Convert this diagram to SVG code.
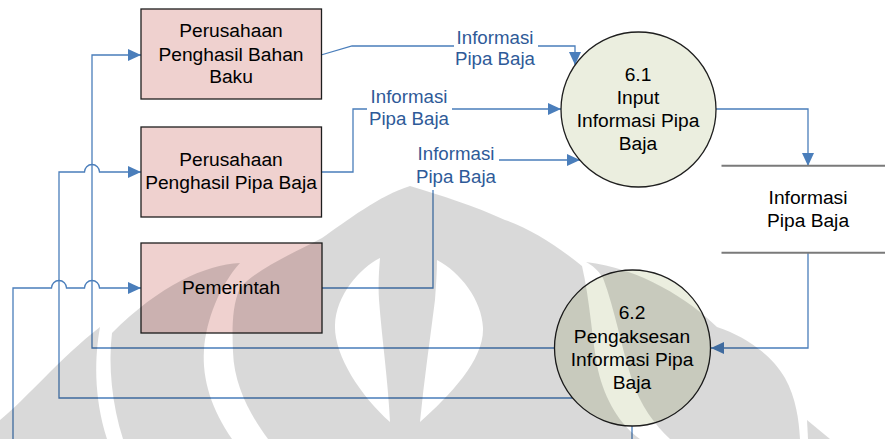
<svg xmlns="http://www.w3.org/2000/svg" width="885" height="439" viewBox="0 0 885 439">
  <style>
    .box { fill: #efd1cf; stroke: #1e1e1e; stroke-width: 1.3; }
    .proc { fill: #ebeedf; stroke: #1e1e1e; stroke-width: 1.3; }
    .txt { font-family: "Liberation Sans", Arial, sans-serif; font-size: 19.2px; fill: #000; text-anchor: middle; }
    .lbl { font-family: "Liberation Sans", Arial, sans-serif; font-size: 18.7px; fill: #2e5a98; text-anchor: middle; }
    .flow { fill: none; stroke: #4a7ebb; stroke-width: 1.3; }
    .store { stroke: #7a7a7a; stroke-width: 2; }
    .lblbg { fill: #fff; }
    .mark { fill: #000; fill-opacity: 0.15; }
  </style>
  <defs>
    <marker id="arrow" markerUnits="userSpaceOnUse" markerWidth="13" markerHeight="12" refX="13" refY="6" orient="auto">
      <path d="M0,0 L13,6 L0,12 Z" fill="#4a7ebb"/>
    </marker>
  </defs>

  <rect x="0" y="0" width="885" height="439" fill="#fff"/>

  <!-- data flows -->
  <g id="connectors">
    <!-- external entities into process 6.1 -->
    <path class="flow" d="M321,55 L352,46 H575 V65" marker-end="url(#arrow)"/>
    <path class="flow" d="M321,172 H353 V109 H561" marker-end="url(#arrow)"/>
    <path class="flow" d="M322,288 H433 V160 H580" marker-end="url(#arrow)"/>
    <!-- 6.1 to data store -->
    <path class="flow" d="M716,109 H808 V166" marker-end="url(#arrow)"/>
    <!-- data store to 6.2 -->
    <path class="flow" d="M808,253 V348 H711" marker-end="url(#arrow)"/>
    <!-- 6.2 back to entities -->
    <path class="flow" d="M554.5,348 H92 V55 H141" marker-end="url(#arrow)"/>
    <path class="flow" d="M572.6,398 H59 V172 H84.5 A7.5,7.5 0 0 1 99.5,172 H141" marker-end="url(#arrow)"/>
    <path class="flow" d="M13,439 V288 H51.5 A7.5,7.5 0 0 1 66.5,288 H84.5 A7.5,7.5 0 0 1 99.5,288 H141" marker-end="url(#arrow)"/>
    <path class="flow" d="M632,426 V439"/>

    <!-- flow labels -->
    <rect class="lblbg" x="454" y="28" width="84" height="42"/>
    <text class="lbl" x="495" y="43.5">Informasi</text>
    <text class="lbl" x="495" y="65">Pipa Baja</text>
    <rect class="lblbg" x="367" y="87" width="85" height="43"/>
    <text class="lbl" x="409" y="103">Informasi</text>
    <text class="lbl" x="409" y="125">Pipa Baja</text>
    <rect class="lblbg" x="413" y="144" width="86" height="46"/>
    <text class="lbl" x="456" y="160.3">Informasi</text>
    <text class="lbl" x="456" y="183">Pipa Baja</text>
  </g>

  <!-- external entities -->
  <g id="perusahaan-bahan-baku">
    <rect class="box" x="141" y="9" width="180.5" height="90"/>
    <text class="txt" x="231" y="37">Perusahaan</text>
    <text class="txt" x="231" y="60.5">Penghasil Bahan</text>
    <text class="txt" x="231" y="83.3">Baku</text>
  </g>
  <g id="perusahaan-pipa-baja">
    <rect class="box" x="141" y="127" width="180.5" height="90"/>
    <text class="txt" x="231" y="165.7">Perusahaan</text>
    <text class="txt" x="231" y="189">Penghasil Pipa Baja</text>
  </g>
  <g id="pemerintah">
    <rect class="box" x="141" y="243" width="181" height="90"/>
    <text class="txt" x="231" y="294">Pemerintah</text>
  </g>

  <!-- processes -->
  <g id="proses-6-1">
    <circle class="proc" cx="638.5" cy="109.5" r="77.5"/>
    <text class="txt" x="638" y="80.5">6.1</text>
    <text class="txt" x="638" y="104">Input</text>
    <text class="txt" x="638" y="127">Informasi Pipa</text>
    <text class="txt" x="638" y="149.5">Baja</text>
  </g>
  <g id="proses-6-2">
    <circle class="proc" cx="632.5" cy="348" r="78"/>
    <text class="txt" x="632" y="319.3">6.2</text>
    <text class="txt" x="632" y="342.5">Pengaksesan</text>
    <text class="txt" x="632" y="366">Informasi Pipa</text>
    <text class="txt" x="632" y="388.5">Baja</text>
  </g>

  <!-- data store -->
  <g id="store-informasi-pipa-baja">
    <line class="store" x1="721.5" y1="165.7" x2="885" y2="165.7"/>
    <line class="store" x1="721.5" y1="252.7" x2="885" y2="252.7"/>
    <text class="txt" x="808" y="204">Informasi</text>
    <text class="txt" x="808" y="226.7">Pipa Baja</text>
  </g>

  <!-- faint background emblem -->
  <g id="emblem">
    <path class="mark" d="M0,420 C25,400 60,358 100,327 C95,355 93,395 107,439 L0,439 Z"/>
    <path class="mark" d="M240,263 C205,265 160,285 112,333 C108,365 112,405 123,439 L232,439 C212,410 202,380 204,350 C206,320 220,285 240,263 Z"/>
    <path class="mark" fill-rule="evenodd" d="M410,186 C380,195 345,222 322,238 C295,252 255,270 240,288 C232,305 232,330 233,352 C234,385 250,415 268,439 L640,439 C620,425 605,400 598,370 C592,340 590,300 582,266 C560,248 530,228 505,220 C475,206 440,195 410,186 Z
      M380,258 C360,268 336,295 335,325 C334,355 360,395 390,422 C388,380 382,340 379,300 C378,285 379,270 380,258 Z
      M437,260 C460,272 482,300 483,328 C484,360 450,395 420,422 C424,380 430,340 435,300 C436,285 437,272 437,260 Z"/>
    <path class="mark" d="M586,262 C640,268 690,300 717,327 C745,336 772,355 785,378 C796,398 799,420 800,439 L670,439 C655,425 640,405 632,380 C622,350 615,310 603,278 C598,270 592,265 586,262 Z"/>
    <path class="mark" d="M807,420 L830,439 L808,439 Z"/>
  </g>
</svg>
